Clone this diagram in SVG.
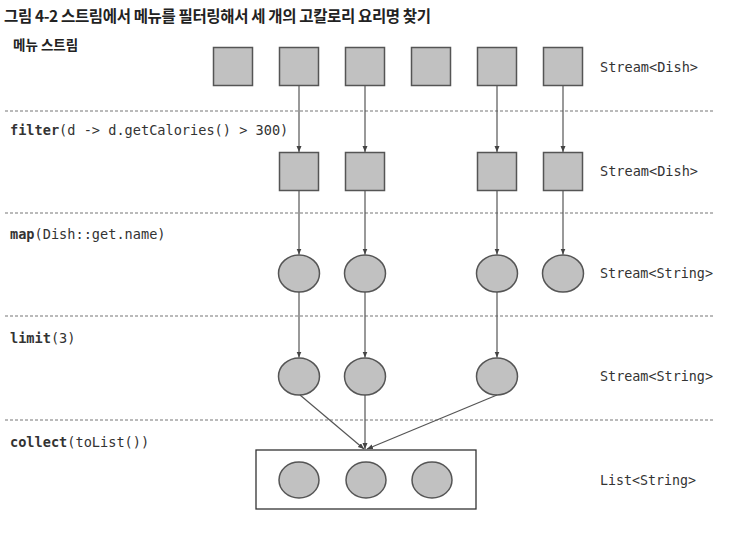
<svg xmlns="http://www.w3.org/2000/svg" width="731" height="534" viewBox="0 0 731 534">
<style>
.title{font-family:"Noto Sans CJK KR","Noto Sans",sans-serif;font-weight:bold;fill:#222}
.code{font-family:"DejaVu Sans Mono","Liberation Mono",monospace;font-size:14.6px;fill:#333}
.stage{font-family:"DejaVu Sans Mono","Liberation Mono",monospace;font-size:13.6px;fill:#333}
.b{font-weight:bold}
.sq{fill:#c1c1c1;stroke:#555;stroke-width:1.5}
.ci{fill:#c1c1c1;stroke:#555;stroke-width:1.5}
.dash{stroke:#777;stroke-width:1.2;stroke-dasharray:3 2;fill:none}
.ar{stroke:#555;stroke-width:1.2;fill:none;marker-end:url(#ah)}
</style>
<defs>
<marker id="ah" markerUnits="userSpaceOnUse" markerWidth="7" markerHeight="6" refX="6" refY="2.5" orient="auto">
<path d="M0,0 L6,2.5 L0,5 z" fill="#444"/>
</marker>
</defs>
<rect width="731" height="534" fill="#fff"/>
<g id="title">
<text class="title" x="4" y="22" font-size="15.5" textLength="427">그림 4-2 스트림에서 메뉴를 필터링해서 세 개의 고칼로리 요리명 찾기</text>
<text class="title" x="13" y="50" font-size="13.5">메뉴 스트림</text>
</g>
<g id="separators">
<line class="dash" x1="5" y1="111" x2="713" y2="111"/>
<line class="dash" x1="5" y1="213" x2="713" y2="213"/>
<line class="dash" x1="5" y1="316" x2="713" y2="316"/>
<line class="dash" x1="5" y1="420" x2="713" y2="420"/>
</g>
<g id="stage-labels">
<text class="stage" x="10" y="135"><tspan class="b">filter</tspan>(d -&gt; d.getCalories() &gt; 300)</text>
<text class="stage" x="10" y="239"><tspan class="b">map</tspan>(Dish::get.name)</text>
<text class="stage" x="10" y="343"><tspan class="b">limit</tspan>(3)</text>
<text class="stage" x="10" y="447"><tspan class="b">collect</tspan>(toList())</text>
</g>
<g id="type-labels">
<text class="code" x="600" y="72" textLength="98" lengthAdjust="spacingAndGlyphs">Stream&lt;Dish&gt;</text>
<text class="code" x="600" y="176" textLength="98" lengthAdjust="spacingAndGlyphs">Stream&lt;Dish&gt;</text>
<text class="code" x="600" y="278" textLength="113" lengthAdjust="spacingAndGlyphs">Stream&lt;String&gt;</text>
<text class="code" x="600" y="381" textLength="113" lengthAdjust="spacingAndGlyphs">Stream&lt;String&gt;</text>
<text class="code" x="600" y="485" textLength="96" lengthAdjust="spacingAndGlyphs">List&lt;String&gt;</text>
</g>
<g id="menu-stream">
<rect class="sq" x="213.5" y="47.5" width="39" height="38"/>
<rect class="sq" x="279.5" y="47.5" width="39" height="38"/>
<rect class="sq" x="345.5" y="47.5" width="39" height="38"/>
<rect class="sq" x="411.5" y="47.5" width="39" height="38"/>
<rect class="sq" x="477.5" y="47.5" width="39" height="38"/>
<rect class="sq" x="543.5" y="47.5" width="39" height="38"/>
</g>
<g id="filtered-stream">
<rect class="sq" x="279.5" y="152.5" width="39" height="38"/>
<rect class="sq" x="345.5" y="152.5" width="39" height="38"/>
<rect class="sq" x="477.5" y="152.5" width="39" height="38"/>
<rect class="sq" x="543.5" y="152.5" width="39" height="38"/>
</g>
<g id="mapped-stream">
<ellipse class="ci" cx="299" cy="273.5" rx="20.5" ry="18.5"/>
<ellipse class="ci" cx="365" cy="273.5" rx="20.5" ry="18.5"/>
<ellipse class="ci" cx="497" cy="273.5" rx="20.5" ry="18.5"/>
<ellipse class="ci" cx="563" cy="273.5" rx="20.5" ry="18.5"/>
</g>
<g id="limited-stream">
<ellipse class="ci" cx="299" cy="376.5" rx="20.5" ry="18.5"/>
<ellipse class="ci" cx="365" cy="376.5" rx="20.5" ry="18.5"/>
<ellipse class="ci" cx="497" cy="376.5" rx="20.5" ry="18.5"/>
</g>
<g id="result-list">
<rect x="256" y="450" width="220" height="59" fill="#fff" stroke="#333" stroke-width="1.3"/>
<ellipse class="ci" cx="299" cy="480" rx="20" ry="18"/>
<ellipse class="ci" cx="366" cy="480" rx="20" ry="18"/>
<ellipse class="ci" cx="432" cy="480" rx="20" ry="18"/>
</g>
<g id="connectors">
<line class="ar" x1="299" y1="86" x2="299" y2="152"/>
<line class="ar" x1="365" y1="86" x2="365" y2="152"/>
<line class="ar" x1="497" y1="86" x2="497" y2="152"/>
<line class="ar" x1="563" y1="86" x2="563" y2="152"/>
<line class="ar" x1="299" y1="191" x2="299" y2="254.5"/>
<line class="ar" x1="365" y1="191" x2="365" y2="254.5"/>
<line class="ar" x1="497" y1="191" x2="497" y2="254.5"/>
<line class="ar" x1="563" y1="191" x2="563" y2="254.5"/>
<line class="ar" x1="299" y1="292" x2="299" y2="357.5"/>
<line class="ar" x1="365" y1="292" x2="365" y2="357.5"/>
<line class="ar" x1="497" y1="292" x2="497" y2="357.5"/>
<line class="ar" x1="300" y1="395" x2="364" y2="449"/>
<line class="ar" x1="365" y1="395" x2="365" y2="449"/>
<line class="ar" x1="497" y1="395" x2="367" y2="449"/>
</g>
</svg>
